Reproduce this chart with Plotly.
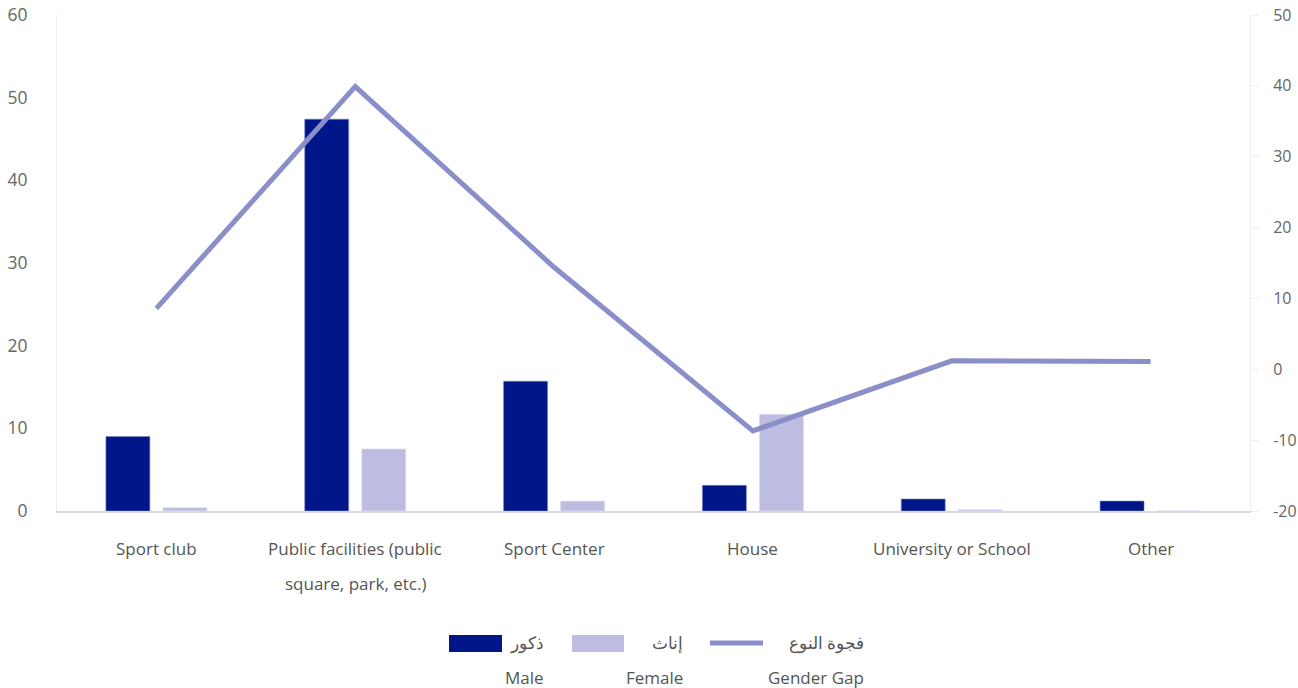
import plotly.graph_objects as go

categories = ["Sport club", "Public facilities (public<br>square, park, etc.)", "Sport Center",
              "House", "University or School", "Other"]
male = [9.0, 47.4, 15.7, 3.1, 1.45, 1.2]
female = [0.4, 7.5, 1.2, 11.7, 0.15, 0.0]
gender_gap = [8.6, 39.9, 14.4, -8.7, 1.2, 1.1]
left_ticks = [0, 10, 20, 30, 40, 50, 60]
right_ticks = [-20, -10, 0, 10, 20, 30, 40, 50]
legend_ar = ["ذكور", "إناث", "فجوة النوع"]
legend_en = ["Male", "Female", "Gender Gap"]

MALE_C = "#001689"
FEMALE_C = "#bcbde0"
GAP_C = "#8a8fc9"
TXT = "#555555"
FONT = "Open Sans"
FS = 17

W, H = 1298, 688
L, R, T, B = 57, 48, 15, 177
PW, PH = W - L - R, H - T - B

idx = list(range(len(categories)))

fig = go.Figure()
fig.add_trace(go.Bar(x=idx, y=male, name="ذكور Male", marker=dict(color=MALE_C, line=dict(width=1, color="rgba(120,130,200,0.6)")),
                     width=0.221, offset=-0.254, showlegend=False))
fig.add_trace(go.Bar(x=idx, y=female, name="إناث Female", marker=dict(color=FEMALE_C, line=dict(width=1, color="rgba(220,220,240,0.8)")),
                     width=0.221, offset=0.033, showlegend=False))
fig.add_trace(go.Scatter(x=idx, y=gender_gap, name="فجوة النوع Gender Gap", yaxis="y2", mode="lines",
                         line=dict(color=GAP_C, width=5), showlegend=False))

def px2paper(px, py):
    return (px - L) / PW, (H - B - py) / PH

annotations = []
for i, c in enumerate(categories):
    for j, line in enumerate(c.split("<br>")):
        annotations.append(dict(x=i, y=0, xref="x", yref="paper", text=line, showarrow=False,
                                yanchor="middle", xanchor="center", yshift=-37 - 35 * j,
                                font=dict(family=FONT, size=FS, color=TXT)))

shapes = []
x0, y0 = px2paper(449, 635); x1, y1 = px2paper(502, 652)
shapes.append(dict(type="rect", xref="paper", yref="paper", x0=x0, y0=y0, x1=x1, y1=y1,
                   fillcolor=MALE_C, line=dict(width=0)))
x0, y0 = px2paper(572, 635); x1, y1 = px2paper(624, 652)
shapes.append(dict(type="rect", xref="paper", yref="paper", x0=x0, y0=y0, x1=x1, y1=y1,
                   fillcolor=FEMALE_C, line=dict(width=0)))
x0, y0 = px2paper(710, 643); x1, y1 = px2paper(763, 643)
shapes.append(dict(type="line", xref="paper", yref="paper", x0=x0, y0=y0, x1=x1, y1=y1,
                   line=dict(color=GAP_C, width=5)))

right_edges = [546, 685, 866]
for k in range(3):
    ax, ay = px2paper(right_edges[k], 642)
    annotations.append(dict(x=ax, y=ay, xref="paper", yref="paper", text=legend_ar[k], showarrow=False,
                            xanchor="right", yanchor="middle", font=dict(family=FONT, size=FS, color=TXT)))
    ex, ey = px2paper(right_edges[k], 677)
    annotations.append(dict(x=ex, y=ey, xref="paper", yref="paper", text=legend_en[k], showarrow=False,
                            xanchor="right", yanchor="middle", font=dict(family=FONT, size=FS, color=TXT)))

fig.update_layout(
    width=W, height=H,
    margin=dict(l=L, r=R, t=T, b=B, pad=0),
    paper_bgcolor="white", plot_bgcolor="white",
    barmode="overlay",
    font=dict(family=FONT, size=FS, color=TXT),
    xaxis=dict(range=[-0.5, len(categories) - 0.5], showticklabels=False, showgrid=False, zeroline=False,
               showline=True, linecolor="#d9d9d9", linewidth=2, ticks="", automargin=False),
    yaxis=dict(range=[0, 60], tickvals=left_ticks, ticktext=[str(v) for v in left_ticks],
               showgrid=False, zeroline=False, automargin=False,
               showline=True, linecolor="#eeeeee", linewidth=1, ticks="",
               ticklabelstandoff=25, tickfont=dict(family=FONT, size=17.5, color="#666666")),
    yaxis2=dict(range=[-20, 50], tickvals=right_ticks, ticktext=[str(v) for v in right_ticks],
                overlaying="y", side="right", showgrid=False,
                zeroline=False, showline=True, linecolor="#eeeeee", linewidth=1, automargin=False,
                ticks="outside", ticklen=8, tickcolor="#eeeeee", ticklabelstandoff=11,
                tickfont=dict(family=FONT, size=16, color="#666666")),
    annotations=annotations,
    shapes=shapes,
    showlegend=False,
)

fig.write_html("out.html", config={"displayModeBar": False},
               post_script="document.body.style.margin='0';document.body.style.overflow='hidden';")
